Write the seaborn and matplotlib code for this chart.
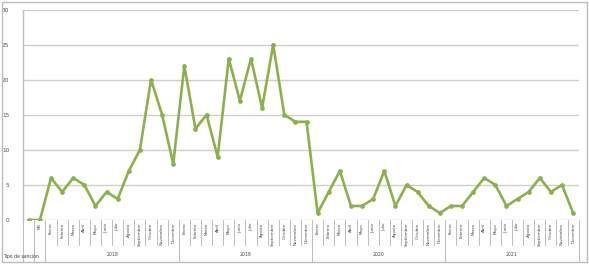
import matplotlib
matplotlib.use("Agg")
import matplotlib.pyplot as plt
import matplotlib.transforms as mtransforms
import seaborn as sns
import pandas as pd
import numpy as np

months = ["Enero", "Febrero", "Marzo", "Abril", "Mayo", "Junio", "Julio",
          "Agosto", "Septiembre", "Octubre", "Noviembre", "Diciembre"]
years = ["2018", "2019", "2020", "2021"]
lead_labels = ["", "MS"]
lead_values = [0, 0]
values_2018 = [6, 4, 6, 5, 2, 4, 3, 7, 10, 20, 15, 8]
values_2019 = [22, 13, 15, 9, 23, 17, 23, 16, 25, 15, 14, 14]
values_2020 = [1, 4, 7, 2, 2, 3, 7, 2, 5, 4, 2, 1]
values_2021 = [2, 2, 4, 6, 5, 2, 3, 4, 6, 4, 5, 1]
field_label = "Tipo de sanción"

labels = lead_labels + months * len(years)
values = lead_values + values_2018 + values_2019 + values_2020 + values_2021
df = pd.DataFrame({"idx": np.arange(len(values)), "valor": values, "etiqueta": labels})

sns.set_theme(style="white")
plt.rcParams["font.family"] = ["DejaVu Sans"]

fig = plt.figure(figsize=(5.89, 2.64), dpi=100)
ax = fig.add_axes([0.0395, 0.1667, 0.943, 0.797])

green = "#8db04a"
sns.lineplot(data=df, x="idx", y="valor", ax=ax, color=green, linewidth=1.9,
             marker="o", markersize=3.4, markeredgewidth=0, legend=False)

n = len(values)
ax.set_xlim(-0.5, n - 0.5)
ax.set_ylim(0, 30)
ax.set_yticks(range(0, 31, 5))
ax.yaxis.grid(True, color="#cfcfcf", linewidth=1)
ax.set_axisbelow(True)
for s in ["top", "right", "bottom"]:
    ax.spines[s].set_visible(False)
ax.spines["left"].set_color("#bdbdbd")
ax.spines["left"].set_linewidth(1)
ax.tick_params(axis="y", labelsize=4.2, colors="#555555", length=0, pad=10)
ax.set_xlabel("")
ax.set_ylabel("")

ax.set_xticks(df["idx"])
ax.set_xticklabels(df["etiqueta"], rotation=90, fontsize=2.9, color="#444444", va="top")
ax.tick_params(axis="x", length=0, pad=2)

trans = mtransforms.blended_transform_factory(ax.transData, ax.transAxes)
# month separators
for i in range(len(values) + 1):
    b = i - 0.5
    group_edge = (i <= len(lead_labels)) or ((i - len(lead_labels)) % 12 == 0)
    y_end = -0.2 if group_edge else -0.12
    ax.plot([b, b], [0, y_end], transform=trans, color="#bdbdbd",
            linewidth=0.7, clip_on=False)

# year labels
for k, yr in enumerate(years):
    start = len(lead_labels) + 12 * k
    center = start + 5.5
    ax.text(center, -0.165, yr, transform=trans, ha="center", va="center",
            fontsize=3.3, color="#444444")

fig.text(0.005, 0.03, field_label, fontsize=3.3, color="#444444", ha="left", va="center")

# outer frame
fig.patches.append(plt.Rectangle((0.003, 0.008), 0.994, 0.985, transform=fig.transFigure,
                                 fill=False, edgecolor="#bdbdbd", linewidth=1))

fig.savefig("out.png", dpi=100)
